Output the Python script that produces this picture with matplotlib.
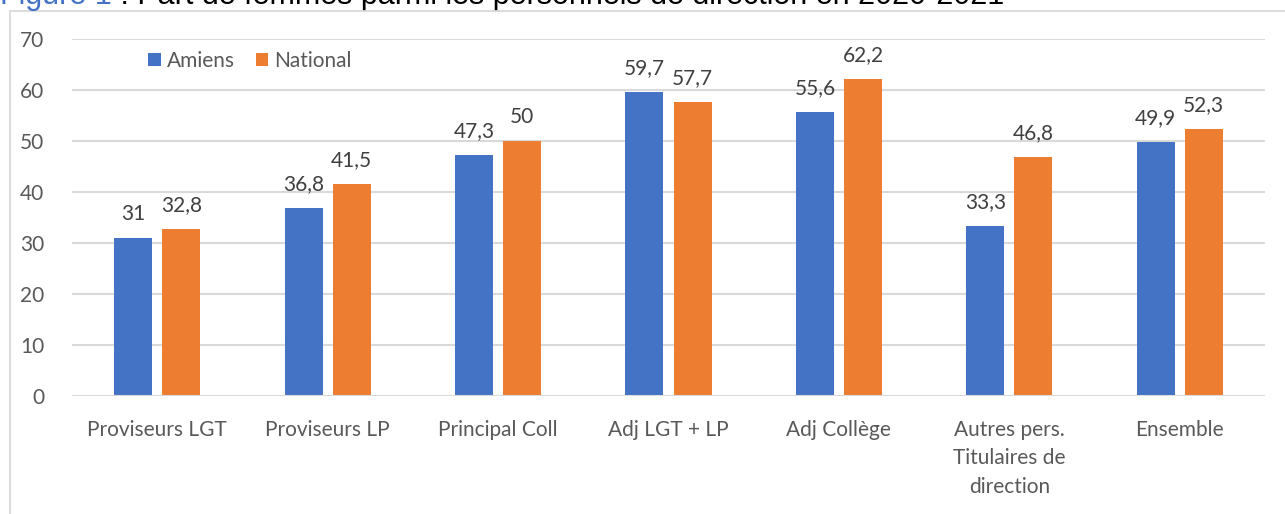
import matplotlib.pyplot as plt
import matplotlib.patches as patches
import numpy as np

# data
categories = ["Proviseurs LGT", "Proviseurs LP", "Principal Coll", "Adj LGT + LP",
              "Adj Collège", "Autres pers.\nTitulaires de\ndirection", "Ensemble"]
amiens = [31, 36.8, 47.3, 59.7, 55.6, 33.3, 49.9]
national = [32.8, 41.5, 50, 57.7, 62.2, 46.8, 52.3]
yticks = [0, 10, 20, 30, 40, 50, 60, 70]

blue = "#4472C4"
orange = "#ED7D31"
grey_txt = "#595959"
plt.rcParams['font.family'] = ['Lato', 'DejaVu Sans']

W, H = 1285, 514
fig = plt.figure(figsize=(W / 100, H / 100), dpi=100)

# axes placed in pixel coordinates
left, right, top, bottom = 72, 1265, 39, 396
ax = fig.add_axes([left / W, 1 - bottom / H, (right - left) / W, (bottom - top) / H])

x = np.arange(len(categories))
bw = 0.223
off = 0.141
b1 = ax.bar(x - off, amiens, bw, color=blue, label="Amiens", zorder=3)
b2 = ax.bar(x + off, national, bw, color=orange, label="National", zorder=3)

def fmt(v):
    s = ("%.1f" % v).replace(".", ",")
    return s[:-2] if s.endswith(",0") else s

for bars, vals in ((b1, amiens), (b2, national)):
    for r, v in zip(bars, vals):
        ax.annotate(fmt(v), (r.get_x() + r.get_width() / 2, v), xytext=(0, 10),
                    textcoords="offset points", ha="center", va="bottom",
                    fontsize=15, color="#404040")

ax.set_xlim(-0.5, len(categories) - 0.5)
ax.set_ylim(0, 70)
ax.set_yticks(yticks)
ax.set_xticks(x)
ax.set_xticklabels(categories, fontsize=15, color=grey_txt, linespacing=1.55)
ax.tick_params(axis="y", labelsize=15, labelcolor=grey_txt, length=0, pad=20)
ax.tick_params(axis="x", length=0, pad=17)
ax.grid(axis="y", color="#D9D9D9", linewidth=1.5, zorder=0)
for s in ax.spines.values():
    s.set_visible(False)
ax.axhline(0, color="#D9D9D9", linewidth=1.5, zorder=4)

ax.legend(loc="upper left", bbox_to_anchor=(0.048, 1.02), ncol=2, frameon=False,
          fontsize=15, handlelength=0.6, handleheight=0.6, handletextpad=0.3,
          columnspacing=1.0, labelcolor=grey_txt)

# outer frame of the chart
fig.patches.append(patches.Rectangle((10 / W, -0.1), 1.1, 1 - 11 / H + 0.1,
                                     transform=fig.transFigure, fill=False,
                                     edgecolor="#D9D9D9", linewidth=1.3))

# title, cut off at the top of the picture as in the reference
t1 = fig.text(0, 1 - 4 / H, "Figure 1", color=blue, fontsize=22, va="baseline",
              family="Liberation Sans")
ax.annotate(" : Part de femmes parmi les personnels de direction en 2020-2021",
            xy=(1, 0), xycoords=t1, va="bottom", ha="left", fontsize=22,
            family="Liberation Sans", color="black", annotation_clip=False)

fig.savefig("out.png", dpi=100)
